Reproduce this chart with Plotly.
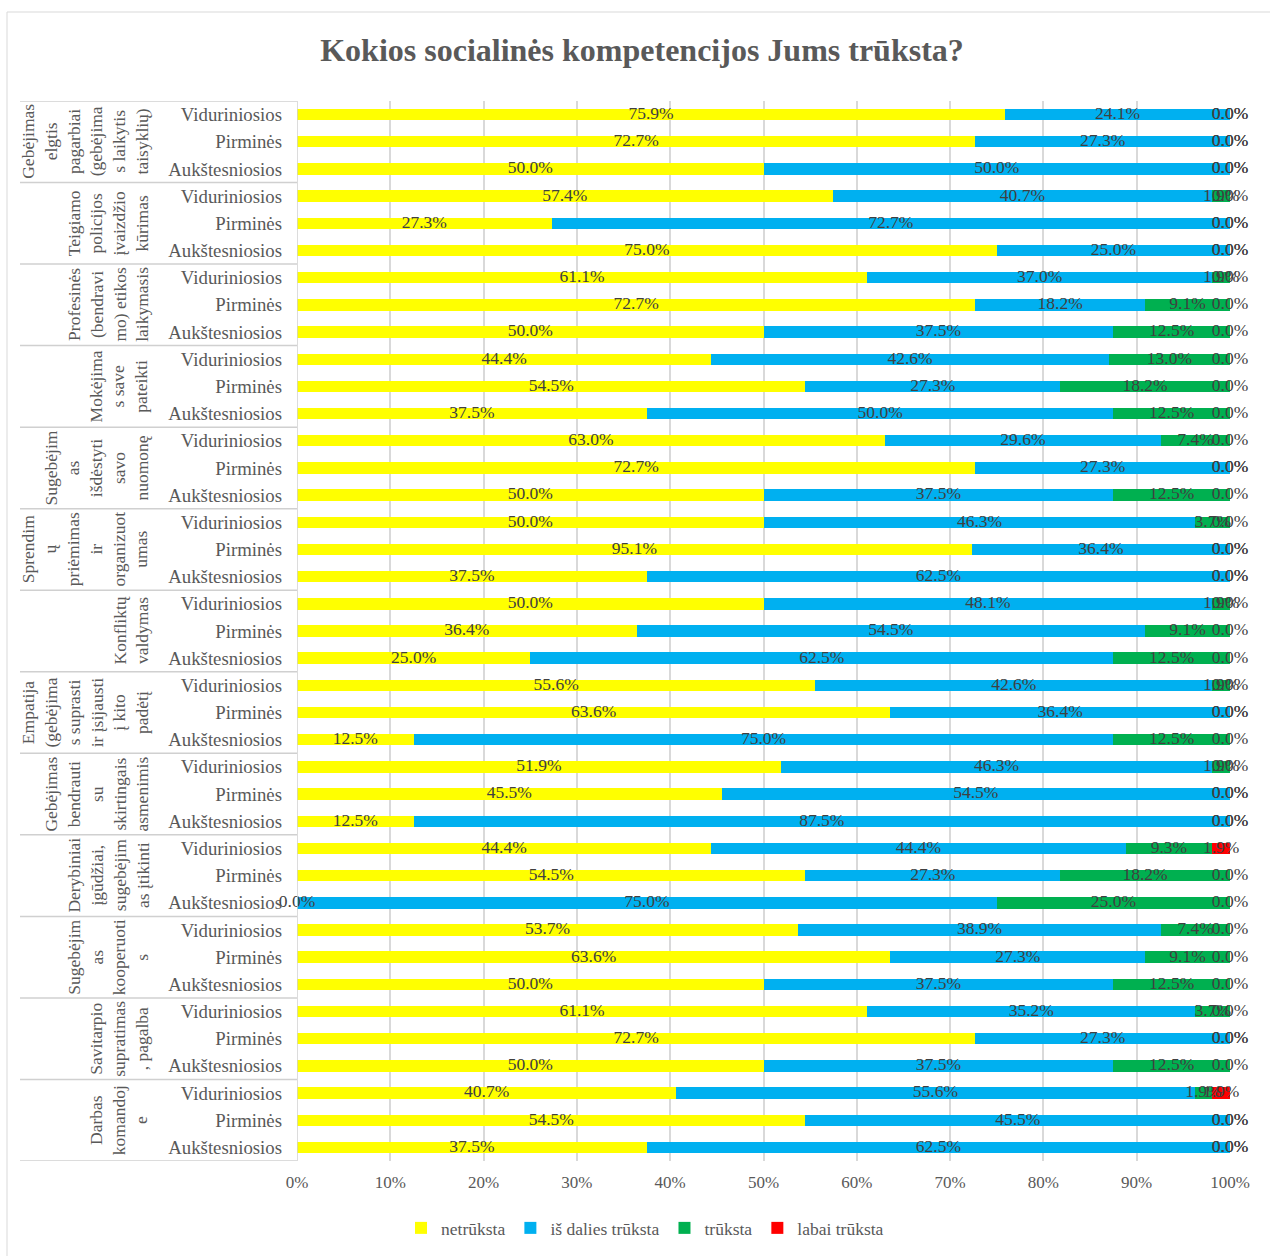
import plotly.graph_objects as go

# Competence groups (wrapped as they appear on the axis) and school levels
group_labels = [
    "Gebėjimas<br>elgtis<br>pagarbiai<br>(gebėjima<br>s laikytis<br>taisyklių)",
    "Teigiamo<br>policijos<br>įvaizdžio<br>kūrimas",
    "Profesinės<br>(bendravi<br>mo) etikos<br>laikymasis",
    "Mokėjima<br>s save<br>pateikti",
    "Sugebėjim<br>as<br>išdėstyti<br>savo<br>nuomonę",
    "Sprendim<br>ų<br>priėmimas<br>ir<br>organizuot<br>umas",
    "Konfliktų<br>valdymas",
    "Empatija<br>(gebėjima<br>s suprasti<br>ir įsijausti<br>į kito<br>padėtį",
    "Gebėjimas<br>bendrauti<br>su<br>skirtingais<br>asmenimis",
    "Derybiniai<br>įgūdžiai,<br>sugebėjim<br>as įtikinti",
    "Sugebėjim<br>as<br>kooperuoti<br>s",
    "Savitarpio<br>supratimas<br>, pagalba",
    "Darbas<br>komandoj<br>e",
]
levels = ["Viduriniosios", "Pirminės", "Aukštesniosios"]

# Answer shares (%) per row, rows ordered group by group, levels as above
netruksta = [75.9, 72.7, 50.0,
             57.4, 27.3, 75.0,
             61.1, 72.7, 50.0,
             44.4, 54.5, 37.5,
             63.0, 72.7, 50.0,
             50.0, 95.1, 37.5,
             50.0, 36.4, 25.0,
             55.6, 63.6, 12.5,
             51.9, 45.5, 12.5,
             44.4, 54.5, 0.0,
             53.7, 63.6, 50.0,
             61.1, 72.7, 50.0,
             40.7, 54.5, 37.5]
is_dalies = [24.1, 27.3, 50.0,
             40.7, 72.7, 25.0,
             37.0, 18.2, 37.5,
             42.6, 27.3, 50.0,
             29.6, 27.3, 37.5,
             46.3, 36.4, 62.5,
             48.1, 54.5, 62.5,
             42.6, 36.4, 75.0,
             46.3, 54.5, 87.5,
             44.4, 27.3, 75.0,
             38.9, 27.3, 37.5,
             35.2, 27.3, 37.5,
             55.6, 45.5, 62.5]
truksta = [0.0, 0.0, 0.0,
           1.9, 0.0, 0.0,
           1.9, 9.1, 12.5,
           13.0, 18.2, 12.5,
           7.4, 0.0, 12.5,
           3.7, 0.0, 0.0,
           1.9, 9.1, 12.5,
           1.9, 0.0, 12.5,
           1.9, 0.0, 0.0,
           9.3, 18.2, 25.0,
           7.4, 9.1, 12.5,
           3.7, 0.0, 12.5,
           1.9, 0.0, 0.0]
labai_truksta = [0.0, 0.0, 0.0,
                 0.0, 0.0, 0.0,
                 0.0, 0.0, 0.0,
                 0.0, 0.0, 0.0,
                 0.0, 0.0, 0.0,
                 0.0, 0.0, 0.0,
                 0.0, 0.0, 0.0,
                 0.0, 0.0, 0.0,
                 0.0, 0.0, 0.0,
                 1.9, 0.0, 0.0,
                 0.0, 0.0, 0.0,
                 0.0, 0.0, 0.0,
                 1.9, 0.0, 0.0]

series_names = ["netrūksta", "iš dalies trūksta", "trūksta", "labai trūksta"]
series_colors = ["#FFFF00", "#00B0F0", "#00B050", "#FF0000"]
series_values = [netruksta, is_dalies, truksta, labai_truksta]

x_ticks = [0, 10, 20, 30, 40, 50, 60, 70, 80, 90, 100]

FONT = "Liberation Serif, Times New Roman, serif"
GREY = "#595959"
LINE = "#D9D9D9"

n_rows = len(netruksta)
rows = list(range(n_rows))
row_ticks = [levels[i % 3] for i in rows]

fig = go.Figure()

for name, color, vals in zip(series_names, series_colors, series_values):
    fig.add_trace(go.Bar(
        x=vals, y=rows, orientation="h", name=name,
        marker=dict(color=color, line=dict(width=0)),
        width=0.42, hoverinfo="x+name",
    ))

# Data labels centred in each (normalised) segment
totals = [sum(s[i] for s in series_values) for i in rows]
cum = [0.0] * n_rows
for vals in series_values:
    xs = []
    for i in rows:
        pos = (cum[i] + vals[i] / 2) / totals[i] * 100
        xs.append(min(100.0, round(pos, 6)))
        cum[i] += vals[i]
    fig.add_trace(go.Scatter(
        x=xs, y=rows, mode="text",
        text=[f"{v:.1f}%" for v in vals],
        textfont=dict(family=FONT, size=17.5, color="#404040"),
        textposition="middle center",
        cliponaxis=False, showlegend=False, hoverinfo="skip",
    ))

L, R, T, B = 297, 40, 101, 95
W, H = 1270, 1256
pw, ph = W - L - R, H - T - B


def px_to_paper_x(px):
    return (px - L) / pw


def px_to_paper_y(py):
    return (H - B - py) / ph


shapes = []
# Outer chart frame
shapes.append(dict(type="rect", xref="paper", yref="paper",
                   x0=px_to_paper_x(7), x1=px_to_paper_x(W + 10),
                   y0=px_to_paper_y(H + 10), y1=px_to_paper_y(12),
                   line=dict(color=LINE, width=1), layer="below"))
# Category box: separators between groups and the axis line
for g in range(len(group_labels) + 1):
    yb = g * 3 - 0.5
    shapes.append(dict(type="line", xref="paper", yref="y",
                       x0=px_to_paper_x(20), x1=0, y0=yb, y1=yb,
                       line=dict(color="#D0D0D0", width=1.5)))
shapes.append(dict(type="line", xref="x", yref="y",
                   x0=0, x1=0, y0=-0.5, y1=n_rows - 0.5,
                   line=dict(color="#D0D0D0", width=1.5)))

annotations = []
for g, label in enumerate(group_labels):
    annotations.append(dict(
        text=label, textangle=-90, align="center",
        xref="paper", yref="y", x=px_to_paper_x(154), xanchor="right",
        y=g * 3 + 1, yanchor="middle", showarrow=False,
        font=dict(family=FONT, size=17.5, color=GREY),
    ))

fig.update_layout(
    width=W, height=H,
    margin=dict(l=L, r=R, t=T, b=B),
    paper_bgcolor="white", plot_bgcolor="white",
    barmode="stack", barnorm="percent",
    font=dict(family=FONT, color=GREY),
    title=dict(
        text="<b>Kokios socialinės kompetencijos Jums trūksta?</b>",
        font=dict(family=FONT, size=32, color=GREY),
        x=642 / W, xref="container", xanchor="center",
        y=1 - 50 / H, yref="container", yanchor="middle",
    ),
    xaxis=dict(
        range=[0, 100], tickvals=x_ticks,
        ticktext=[f"{t}%" for t in x_ticks],
        showgrid=True, gridcolor=LINE, gridwidth=1.5,
        zeroline=False, showline=False, ticks="",
        tickfont=dict(family=FONT, size=17, color=GREY),
        ticklabelstandoff=9, fixedrange=True,
    ),
    yaxis=dict(
        range=[n_rows - 0.5, -0.5], tickvals=rows, ticktext=row_ticks,
        showgrid=False, zeroline=False, showline=False, ticks="",
        tickfont=dict(family=FONT, size=18.8, color=GREY),
        ticklabelstandoff=14, fixedrange=True,
    ),
    legend=dict(
        orientation="h", xref="container", yref="container",
        x=645 / W, xanchor="center", y=1 - 1228 / H, yanchor="middle",
        font=dict(family=FONT, size=17.5, color=GREY),
        itemwidth=30, traceorder="normal",
    ),
    shapes=shapes, annotations=annotations,
    showlegend=True,
)

fig.write_html("out.html")
